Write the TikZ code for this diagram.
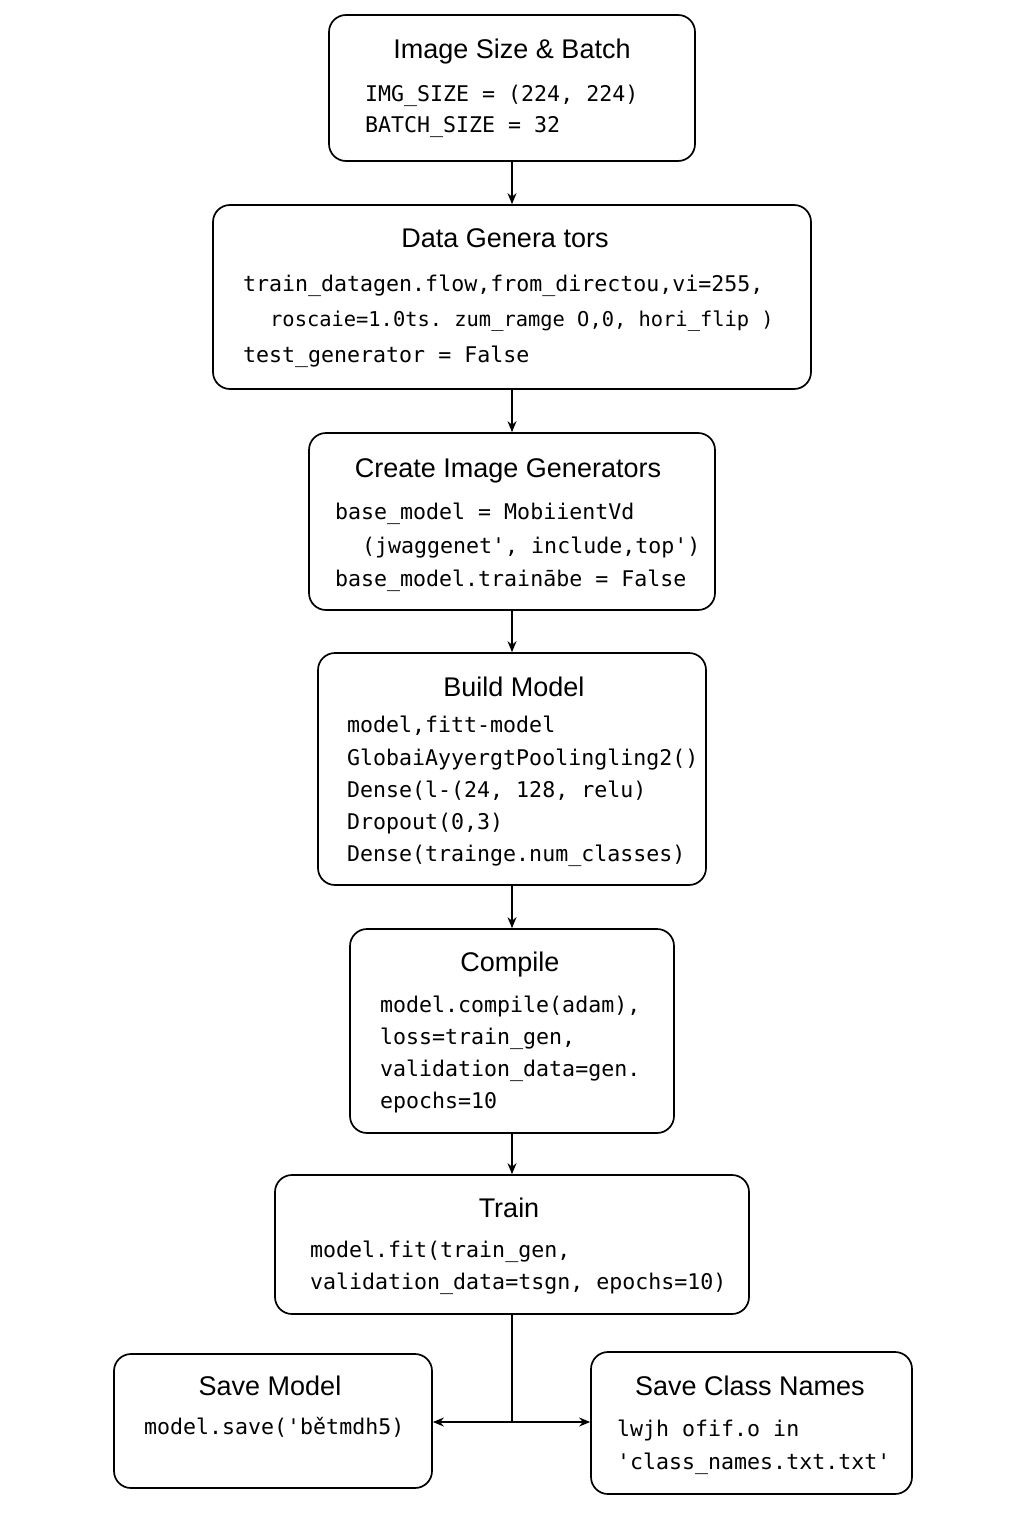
\documentclass[tikz,border=0pt]{standalone}
\usepackage{fontspec}
\setmainfont{Liberation Sans}
\setmonofont{DejaVu Sans Mono}
\usetikzlibrary{arrows.meta}
\tikzset{
  box/.style={draw=black, line width=1.7pt, rounded corners=17pt, fill=white, inner sep=0pt},
  ttl/.style={font=\fontsize{27}{32}\selectfont, anchor=base, inner sep=0pt},
  code/.style={font=\ttfamily\fontsize{21.6}{26}\selectfont, anchor=base west, inner sep=0pt},
  link/.style={line width=1.4pt, -{Stealth[length=11pt,width=9pt]}},
  plain/.style={line width=1.4pt}
}
\begin{document}
\begin{tikzpicture}[x=1pt,y=-1pt]
\useasboundingbox[fill=white] (0,0) rectangle (1024,1536);

% boxes
\node[box, minimum width=366pt, minimum height=146pt] (b1) at (512,88) {};
\node[box, minimum width=598pt, minimum height=184pt] (b2) at (512,297) {};
\node[box, minimum width=406pt, minimum height=177pt] (b3) at (512,521.5) {};
\node[box, minimum width=388pt, minimum height=232pt] (b4) at (512,769) {};
\node[box, minimum width=324pt, minimum height=204pt] (b5) at (512,1031) {};
\node[box, minimum width=474pt, minimum height=139pt] (b6) at (512,1244.5) {};
\node[box, minimum width=318pt, minimum height=134pt] (b7) at (273,1421) {};
\node[box, minimum width=321pt, minimum height=142pt] (b8) at (751.5,1423) {};

% box 1
\node[ttl] (t1) at (512,59) {Image Size \& Batch};
\node[code] (c1a) at (365,102) {IMG\_SIZE = (224, 224)};
\node[code] (c1b) at (365,132) {BATCH\_SIZE = 32};

% box 2
\node[ttl] (t2) at (505,247) {Data Genera tors};
\node[code] (c2a) at (243,291) {train\_datagen.flow,from\_directou,vi=255,};
\node[code, font=\ttfamily\fontsize{20.4}{26}\selectfont] (c2b) at (270,326) {roscaie=1.0ts. zum\_ramge O,0, hori\_flip )};
\node[code] (c2c) at (243,362) {test\_generator = False};

% box 3
\node[ttl] (t3) at (508,477) {Create Image Generators};
\node[code] (c3a) at (335,519) {base\_model = MobiientVd};
\node[code] (c3b) at (362,553) {(jwaggenet', include,top')};
\node[code] (c3c) at (335,586) {base\_model.trainābe = False};

% box 4
\node[ttl] (t4) at (514,696) {Build Model};
\node[code] (c4a) at (347,732) {model,fitt-model};
\node[code] (c4b) at (347,765) {GlobaiAyyergtPoolingling2()};
\node[code] (c4c) at (347,797) {Dense(l-(24, 128, relu)};
\node[code] (c4d) at (347,829) {Dropout(0,3)};
\node[code] (c4e) at (347,861) {Dense(trainge.num\_classes)};

% box 5
\node[ttl] (t5) at (510,971) {Compile};
\node[code] (c5a) at (380,1012) {model.compile(adam),};
\node[code] (c5b) at (380,1044) {loss=train\_gen,};
\node[code] (c5c) at (380,1076) {validation\_data=gen.};
\node[code] (c5d) at (380,1108) {epochs=10};

% box 6
\node[ttl] (t6) at (509,1217) {Train};
\node[code] (c6a) at (310,1257) {model.fit(train\_gen,};
\node[code] (c6b) at (310,1289) {validation\_data=tsgn, epochs=10)};

% box 7
\node[ttl] (t7) at (270,1395) {Save Model};
\node[code] (c7a) at (144,1434) {model.save('bětmdh5)};

% box 8
\node[ttl] (t8) at (750,1395) {Save Class Names};
\node[code] (c8a) at (617,1436) {lwjh ofif.o in};
\node[code] (c8b) at (617,1469) {'class\_names.txt.txt'};

% connectors
\draw[link] (b1) -- (b2);
\draw[link] (b2) -- (b3);
\draw[link] (b3) -- (b4);
\draw[link] (b4) -- (b5);
\draw[link] (b5) -- (b6);
\coordinate (j) at (512,1422);
\draw[plain] (b6.south) -- (j);
\draw[link] (j) -- (b7.east |- j);
\draw[link] (j) -- (b8.west |- j);
\end{tikzpicture}
\end{document}
